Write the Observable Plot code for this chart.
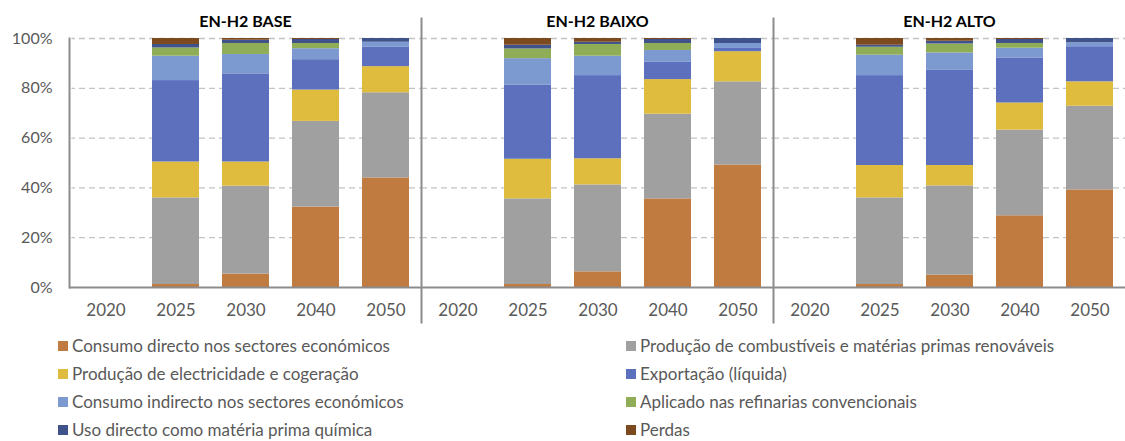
<!DOCTYPE html>
<html><head><meta charset="utf-8">
<script src="https://cdn.jsdelivr.net/npm/d3@7"></script>
<script src="https://cdn.jsdelivr.net/npm/@observablehq/plot@0.6"></script>
<style>
body{margin:0;background:#fff;font-family:Lato,sans-serif;overflow:hidden}
#legend{display:grid;grid-template-columns:568px auto;padding-left:58px;color:#595959;font-size:17px;line-height:28px}
.item{display:flex;align-items:center;white-space:nowrap}
.sw{width:10px;height:10px;margin-right:4px;display:inline-block;flex:none}
</style></head><body><div id="chart"></div><div id="legend"></div>
<script>
const scenarios = ["EN-H2 BASE", "EN-H2 BAIXO", "EN-H2 ALTO"];
const years = ["2020", "2025", "2030", "2040", "2050"];
const series = [
  "Consumo directo nos sectores económicos",
  "Produção de combustíveis e matérias primas renováveis",
  "Produção de electricidade e cogeração",
  "Exportação (líquida)",
  "Consumo indirecto nos sectores económicos",
  "Aplicado nas refinarias convencionais",
  "Uso directo como matéria prima química",
  "Perdas"
];
const colors = ["#c07b41", "#a0a0a0", "#e0bc3e", "#5c70be", "#7d9ad0", "#8fac57", "#3f528a", "#7d4a20"];
const yTicks = [0, 20, 40, 60, 80, 100];

// percent shares, one row per series, columns follow `years`
const baseValues = [
  [0, 1.2, 5.4, 32.3, 44.0],
  [0, 34.8, 35.3, 34.4, 34.2],
  [0, 14.4, 9.7, 12.6, 10.5],
  [0, 32.7, 35.4, 12.2, 7.9],
  [0, 9.8, 7.8, 4.4, 1.9],
  [0, 3.3, 4.4, 2.1, 0],
  [0, 1.4, 1.3, 1.6, 1.5],
  [0, 2.4, 0.7, 0.4, 0]
];
const baixoValues = [
  [0, 1.2, 6.3, 35.6, 49.2],
  [0, 34.4, 34.9, 34.0, 33.4],
  [0, 15.9, 10.5, 13.9, 12.1],
  [0, 29.7, 33.4, 7.1, 1.3],
  [0, 10.7, 7.8, 4.6, 2.0],
  [0, 3.9, 4.7, 2.8, 0],
  [0, 1.5, 0.9, 1.6, 2.0],
  [0, 2.7, 1.5, 0.4, 0]
];
const altoValues = [
  [0, 1.2, 5.0, 28.8, 39.2],
  [0, 34.8, 35.8, 34.4, 33.6],
  [0, 13.0, 8.2, 10.9, 9.8],
  [0, 36.1, 38.2, 18.1, 14.1],
  [0, 8.2, 7.0, 3.9, 1.6],
  [0, 3.2, 3.6, 1.9, 0],
  [0, 0.8, 1.1, 1.6, 1.7],
  [0, 2.7, 1.1, 0.4, 0]
];

const tables = [baseValues, baixoValues, altoValues];
const data = [];
scenarios.forEach((sc, k) => {
  series.forEach((s, i) => {
    years.forEach((yr, j) => {
      data.push({scenario: sc, series: s, year: yr, value: tables[k][i][j]});
    });
  });
});

const gray = "#8c8c8c";
const chart = Plot.plot({
  width: 1125,
  height: 332,
  marginTop: 38,
  marginBottom: 45,
  marginLeft: 68,
  marginRight: 0,
  style: {fontFamily: "Lato, sans-serif", fontSize: "16px", color: "#595959", background: "#fff", overflow: "visible"},
  fx: {domain: scenarios, padding: 0, label: null},
  x: {domain: years, paddingInner: 0.33, paddingOuter: 0.165, label: null},
  y: {domain: [0, 100], label: null},
  color: {domain: series, range: colors},
  marks: [
    Plot.gridY(yTicks.filter(d => d > 0), {stroke: "#c4c4c4", strokeOpacity: 1, strokeDasharray: "6,4", strokeWidth: 1.3}),
    Plot.barY(data, {fx: "scenario", x: "year", y: "value", fill: "series", order: series}),
    Plot.frame({anchor: "left", insetTop: -20, insetBottom: -35, stroke: gray, strokeWidth: 2}),
    Plot.frame({anchor: "left", facetAnchor: "left", insetTop: -21, insetBottom: -36, stroke: "#fff", strokeWidth: 4}),
    Plot.frame({anchor: "left", facetAnchor: "left", stroke: gray, strokeWidth: 2}),
    Plot.ruleY([0], {stroke: gray, strokeWidth: 2}),
    Plot.axisY({ticks: yTicks, tickFormat: d => d + "%", tickSize: 0, tickPadding: 17, label: null, fontSize: 16}),
    Plot.axisX({tickSize: 0, tickPadding: 16, label: null, fontSize: 17}),
    Plot.axisFx({anchor: "top", tickSize: 0, tickPadding: 12, label: null, fontWeight: "bold", fill: "#000", fontSize: 16})
  ]
});
document.getElementById("chart").appendChild(chart);

const legend = document.getElementById("legend");
series.forEach((s, i) => {
  const item = document.createElement("div");
  item.className = "item";
  const sw = document.createElement("span");
  sw.className = "sw";
  sw.style.background = colors[i];
  item.appendChild(sw);
  item.appendChild(document.createTextNode(s));
  legend.appendChild(item);
});
</script>
</body></html>
